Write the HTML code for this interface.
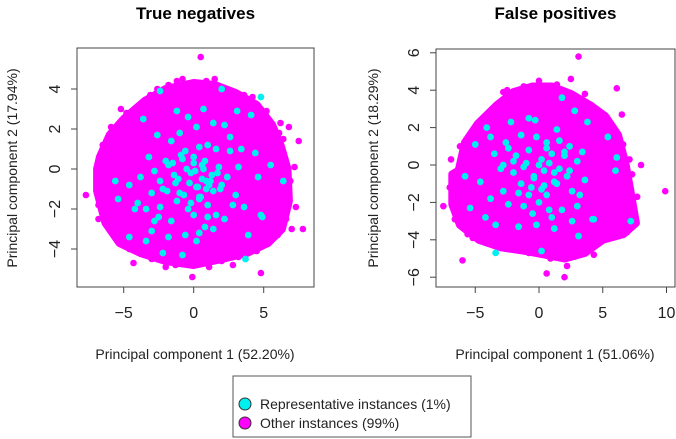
<!DOCTYPE html>
<html><head><meta charset="utf-8"><style>
body{margin:0;background:#fff;width:676px;height:439px;overflow:hidden}
svg{display:block;font-family:"Liberation Sans",Arial,sans-serif}
</style></head><body>
<svg id="c" width="676" height="439"></svg>
<script>
// ---- Data (data units) ----
const leftHullX=[-6.7,-6,-5,-3.5,-2,0,1.5,3,4.5,5.6,6.2,6.7,6.8,6.3,5.3,3.8,2,0,-2,-3.8,-5.3,-6.3,-6.9,-6.9];
const leftHullY=[0.6,1.7,2.5,3.4,4.0,4.3,4.2,3.8,3.2,2.2,1.2,0,-1.6,-3.0,-3.7,-4.2,-4.5,-4.8,-4.6,-4.2,-3.7,-2.7,-1.1,0];
const leftOutX=[-7.7,0.5,7.5,7,7.8,4.8,-0.1,-4.3,6.8,7.2,7.3,-1.2,1.5,4.2,-6.3,6.2,-2,2.8,-6.8,-6.5,-5.9,-4.8,-3.1,-2.6,-0.8,0.9,2.3,3.6,5.2,6.1,6.9,6.6,6.0,4.5,3.2,1.1,-1.3,-3.0,-4.6,-5.8,-6.8,5.7,-5.2,6.4,-1.8,2.0];
const leftOutY=[-1.3,5.6,1.4,-3,-3,-5.2,-5.4,-4.7,2.1,0.1,-1.9,4.4,4.5,3.6,0.1,2.3,-4.9,-4.8,-1.8,1.2,2.1,2.8,3.7,4.0,4.5,4.4,4.0,3.7,2.9,1.8,-0.6,-2.5,-3.3,-4.1,-4.4,-4.9,-4.8,-4.5,-4.0,-3.2,-2.5,-2.4,3.0,1.5,4.2,-4.6];
const leftCyanX=[-2.4,2.0,4.8,-3.6,-1.2,0.7,1.4,3.1,-2.6,-0.4,-5.4,-2.5,3.9,4.1,-1.0,0.2,1.0,2.2,-1.6,-0.6,0.4,1.6,2.6,-2.0,-3.2,-1.8,-0.8,0.0,0.8,1.8,3.4,4.4,5.5,-4.6,-3.8,-2.8,-1.4,-0.2,0.6,1.2,2.4,3.2,-5.6,-4.0,-3.0,-2.2,-1.0,0.2,1.4,2.0,3.0,4.6,6.4,-3.4,-2.4,-1.2,-0.4,0.4,1.6,2.8,-4.2,-2.8,-1.6,0.0,1.0,2.2,3.6,4.8,-4.6,-3.4,-1.8,0.4,0.8,1.4,-2.2,-0.8,3.7,4.9,-3.0,0.2,-0.6,-0.5,0.1,0.7,1.3,-1.1,-0.3,0.3,0.9,-0.7,0.5,1.1,-1.5,1.7,-0.9,0.0,0.6,-0.2,1.0,-1.3,0.4,2.6,-2.4,1.9,-1.9,0.9];
const leftCyanY=[3.9,4.0,3.6,2.5,2.9,3.0,2.3,2.9,1.7,2.6,-1.5,-2.4,-3.3,2.7,1.8,2.1,1.2,2.2,1.4,0.9,1.1,1.0,1.6,0.4,0.6,0.2,0.5,0.3,0.4,0.1,1.0,0.8,0.2,-0.8,-0.4,-0.1,-0.3,-0.2,-0.5,-0.6,-0.4,0.1,-0.6,-1.7,-1.2,-1.0,-1.2,-0.9,-1.1,-0.8,-1.3,-0.4,-0.6,-2.0,-1.9,-1.6,-2.0,-1.5,-2.3,-1.8,-2.0,-2.6,-2.6,-2.3,-2.4,-2.5,-1.9,-2.3,-3.4,-3.6,-3.4,-3.2,-2.9,-3.0,-4.2,-4.3,-4.5,-2.4,-3.1,-3.6,-3.3,0.0,-0.1,0.0,-0.3,-0.5,-0.7,-0.9,-1.0,-1.3,-1.4,-0.8,0.3,-0.2,0.7,0.6,0.2,-1.7,-1.8,-0.7,-1.4,0.9,-0.6,-1.0,-1.1,-0.6];
const rightHullX=[-6.3,-5.8,-4.8,-3.3,-2,-0.5,1,2.5,4,5.2,6.2,6.8,7.2,7.6,6.6,5,3.6,2,0.5,-1,-3,-4.7,-6.2,-6.8,-6.8];
const rightHullY=[-0.3,1.2,2.2,3.2,3.9,4.2,4.2,3.8,3.2,2.6,1.6,0,-1.5,-3.1,-3.7,-4.0,-4.7,-5.0,-4.8,-4.6,-4.4,-4.0,-3.2,-2.1,-0.5];
const rightOutX=[-7.5,-6,3.1,6.1,9.9,8,7.7,0.6,2,2.2,2.5,0,-2.5,6.5,7.3,4.3,-5.6,-6.6,-7.0,-6.9,-6.2,-5.2,-3.8,-2.8,-1.2,1.4,3.6,4.9,5.8,6.6,7.1,7.4,6.9,5.8,4.0,2.8,0.9,-0.8,-2.4,-4.0,-5.2,-6.4,-3.0];
const rightOutY=[-2.2,-5.1,5.8,4.1,-1.4,0,-1.7,-5.8,-6,-5.4,4.6,4.5,4,2.7,-0.5,-4.8,-3.7,-2.9,-1.2,0.3,1.0,1.8,2.9,3.9,4.2,4.3,3.8,2.7,2.0,1.1,0.3,-2.4,-3.6,-3.6,-4.4,-4.9,-5.0,-4.7,-4.5,-4.2,-3.9,-2.8,3.0];
const rightCyanX=[1.8,2.8,-4.1,-0.8,-0.3,1.4,3.8,-2.2,-5.0,-3.8,-2.6,-1.4,-0.2,0.6,1.6,2.4,3.4,5.4,-3.5,-2.4,-1.8,-0.8,0.2,1.0,2.0,3.0,6.1,-5.8,-4.6,-3.0,-2.0,-1.2,-0.4,0.4,1.2,2.2,3.6,6.0,-3.8,-2.8,-1.6,-0.6,0.6,1.4,2.6,3.2,-5.4,-4.2,-2.4,-1.2,0.0,0.8,1.8,3.0,4.2,-3.4,-1.6,-0.2,1.2,2.6,4.3,7.2,-3.4,0.2,3.1,-0.5,1.0,-1.0,0.0,0.8,1.6,-2.0,-0.4,0.4,1.2,2.0,-1.4,0.6,-2.8,2.4,0.2,-0.8];
const rightCyanY=[3.6,2.9,2.0,2.5,2.4,1.9,2.3,2.3,1.1,1.5,1.2,1.6,1.5,1.2,1.3,1.0,0.7,1.5,0.6,0.9,0.5,0.8,0.3,0.6,0.7,0.2,0.4,-0.6,-0.9,-0.2,-0.4,-0.1,-0.6,-0.3,-0.9,-0.6,-0.8,-0.3,-1.8,-1.4,-1.5,-1.2,-1.6,-1.0,-1.4,-1.6,-2.3,-2.8,-2.1,-2.2,-2.0,-2.4,-2.4,-2.2,-2.9,-3.2,-3.3,-3.2,-3.4,-3.0,-2.9,-3.0,-4.7,-4.6,-3.8,-2.6,-2.8,0.1,0.0,0.1,-0.2,0.2,-0.7,-1.1,-0.4,0.5,-1.0,0.9,0.0,-0.3,-1.3,-1.6];
const leftXTicks=[-5,0,5], leftYTicks=[-4,-2,0,2,4];
const rightXTicks=[-5,0,5,10], rightYTicks=[-6,-4,-2,0,2,4,6];

const NS="http://www.w3.org/2000/svg", svg=document.getElementById('c');
function mk(tag,attrs,parent){const e=document.createElementNS(NS,tag);for(const k in attrs)e.setAttribute(k,attrs[k]);(parent||svg).appendChild(e);return e;}

function panel(cfg){
  const g=mk('g',{});
  
  
  const sx=v=>cfg.x0+v*cfg.kx, sy=v=>cfg.y0-v*cfg.ky;
  const t=mk('text',{x:(cfg.bx0+cfg.bx1)/2,y:19,'text-anchor':'middle','font-size':17,'font-weight':'bold',fill:'#000'},g);
  t.textContent=cfg.title;
  
  
  let d=cfg.hx.map((v,i)=>(i?'L':'M')+sx(v)+','+sy(cfg.hy[i])).join(' ')+'Z';
  const hull=mk('path',{d:d,fill:'#ff00ff',stroke:'#ff00ff','stroke-width':8,'stroke-linejoin':'round'},g);
  
  
  cfg.ox.forEach((v,i)=>{const c=mk('circle',{cx:sx(v),cy:sy(cfg.oy[i]),r:3.3,fill:'#ff00ff'},g);
    
    });
  cfg.cx.forEach((v,i)=>{const c=mk('circle',{cx:sx(v),cy:sy(cfg.cy[i]),r:3.4,fill:'#00f0f0'},g);
    
    });
  const box=mk('rect',{x:cfg.bx0,y:cfg.by0,width:cfg.bx1-cfg.bx0,height:cfg.by1-cfg.by0,fill:'none',stroke:'#444','stroke-width':1},g);
  
  
  const ax=mk('g',{},g);
  
  
  const xt=cfg.xt;
  mk('line',{x1:sx(xt[0]),x2:sx(xt[xt.length-1]),y1:cfg.by1,y2:cfg.by1,stroke:'#444'},ax);
  xt.forEach(v=>{mk('line',{x1:sx(v),x2:sx(v),y1:cfg.by1,y2:cfg.by1+6,stroke:'#444'},ax);
    const l=mk('text',{x:sx(v),y:cfg.by1+31,'text-anchor':'middle','font-size':16,fill:'#222'},ax);
    l.textContent=v<0?'\u2212'+(-v):v;
    
    });
  const xl=mk('text',{x:cfg.xlx,y:359,'text-anchor':'middle','font-size':14,fill:'#222'},g);
  xl.textContent=cfg.xlab;
  
  
  const ay=mk('g',{},g);
  
  
  const yt=cfg.yt;
  mk('line',{x1:cfg.bx0,x2:cfg.bx0,y1:sy(yt[0]),y2:sy(yt[yt.length-1]),stroke:'#444'},ay);
  yt.forEach(v=>{mk('line',{x1:cfg.bx0,x2:cfg.bx0-6,y1:sy(v),y2:sy(v),stroke:'#444'},ay);
    const X=cfg.bx0-17,Y=sy(v);
    const l=mk('text',{x:X,y:Y,'text-anchor':'middle','font-size':16,fill:'#222',transform:`rotate(-90 ${X} ${Y})`},ay);
    l.textContent=v<0?'\u2212'+(-v):v;
    
    });
  const yx=cfg.ylx,yy=168;
  const yl=mk('text',{x:yx,y:yy,'text-anchor':'middle','font-size':14,fill:'#222',transform:`rotate(-90 ${yx} ${yy})`},g);
  yl.textContent=cfg.ylab;
  
  
}
panel({name:'true-negatives-panel',title:'True negatives',x0:193.7,kx:14,y0:169,ky:20,bx0:77,bx1:314,by0:48,by1:287,
  hx:leftHullX,hy:leftHullY,ox:leftOutX,oy:leftOutY,cx:leftCyanX,cy:leftCyanY,xt:leftXTicks,yt:leftYTicks,
  xlab:'Principal component 1 (52.20%)',xlx:195,ylab:'Principal component 2 (17.94%)',ylx:17});
panel({name:'false-positives-panel',title:'False positives',x0:539,kx:12.75,y0:165,ky:18.7,bx0:436,bx1:675,by0:49,by1:287,
  hx:rightHullX,hy:rightHullY,ox:rightOutX,oy:rightOutY,cx:rightCyanX,cy:rightCyanY,xt:rightXTicks,yt:rightYTicks,
  xlab:'Principal component 1 (51.06%)',xlx:555,ylab:'Principal component 2 (18.29%)',ylx:378});
const lg=mk('g',{});


mk('rect',{x:233,y:376,width:238,height:61,fill:'#fff',stroke:'#555'},lg);
[['#00f0f0','Representative instances (1%)',404],['#ff00ff','Other instances (99%)',423]].forEach(e=>{
  const c=mk('circle',{cx:245,cy:e[2],r:6,fill:e[0],stroke:'#333','stroke-width':1},lg);
  
  
  const t=mk('text',{x:260,y:e[2]+5,'font-size':14,fill:'#222'},lg);
  t.textContent=e[1];
  
  
});
</script>
</body></html>
